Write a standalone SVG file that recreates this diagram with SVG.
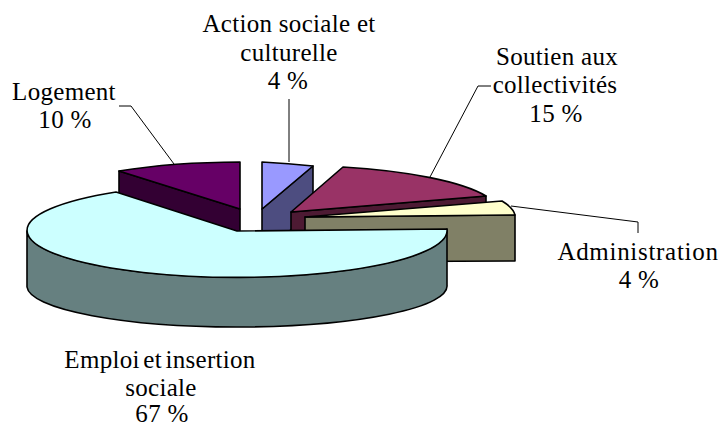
<svg xmlns="http://www.w3.org/2000/svg" width="718" height="426" viewBox="0 0 718 426">
<style>
.s{stroke:#000;stroke-width:1.6;stroke-linejoin:round}
.t{font-family:'Liberation Serif','Times New Roman',serif;font-size:25px;fill:#000;text-anchor:middle;letter-spacing:0.3px}
.l{fill:none;stroke:#000;stroke-width:1}
</style>
<rect width="718" height="426" fill="#fff"/>
<g id="logement">
<path class="s" fill="#330033" d="M240,209 L119,171 L119,216 L240,254 Z"/>
<path class="s" fill="#660066" d="M240,209 L240,162 A210,47 0 0,0 119,171 Z"/>
<text class="t" x="64" y="100">Logement</text>
<text class="t" x="65" y="128">10 %</text>
</g>
<g id="action">
<path class="s" fill="#4D4D80" d="M262,209 L313,166 L313,211 L262,254 Z"/>
<path class="s" fill="#9999FF" d="M262,209 L262,162 A210,47 0 0,1 313,166 Z"/>
<text class="t" x="289" y="32">Action sociale et</text>
<text class="t" x="289" y="61">culturelle</text>
<text class="t" x="288" y="89">4 %</text>
</g>
<g id="soutien">
<path class="s" fill="#4D1A33" d="M291,212 L486,196 L486,241 L291,257 Z"/>
<path class="s" fill="#993366" d="M291,212 L343,167 A210,47 0 0,1 486,196 Z"/>
<text class="t" x="557" y="65">Soutien aux</text>
<text class="t" x="555" y="93">collectivités</text>
<text class="t" x="556" y="122">15 %</text>
</g>
<g id="administration">
<path class="s" fill="#808066" d="M305,217 L515,215 L515,261 L305,262 Z"/>
<path class="s" fill="#FFFFCC" d="M305,217 L515,215 A210,47 0 0,0 502,201 Z"/>
<text class="t" x="638" y="260" style="letter-spacing:0.7px">Administration</text>
<text class="t" x="639" y="288">4 %</text>
</g>
<g id="emploi">
<path class="s" fill="#668080" d="M27,231 A210,47 0 0,0 447,229 L447,285 A210,41 0 0,1 27,287 Z"/>
<path class="s" fill="#CCFFFF" d="M237,231 L447,229 A210,47 0 1,1 116,192 Z"/>
<text class="t" x="160" y="368" word-spacing="-3">Emploi et insertion</text>
<text class="t" x="161" y="396">sociale</text>
<text class="t" x="162" y="422">67 %</text>
</g>
<g id="connectors">
<polyline class="l" points="119,106 131,106 174,164"/>
<polyline class="l" points="289,99 289,162"/>
<polyline class="l" points="491,86 478,86 430,177"/>
<polyline class="l" points="638,233 638,222 511,206"/>
</g>
</svg>
